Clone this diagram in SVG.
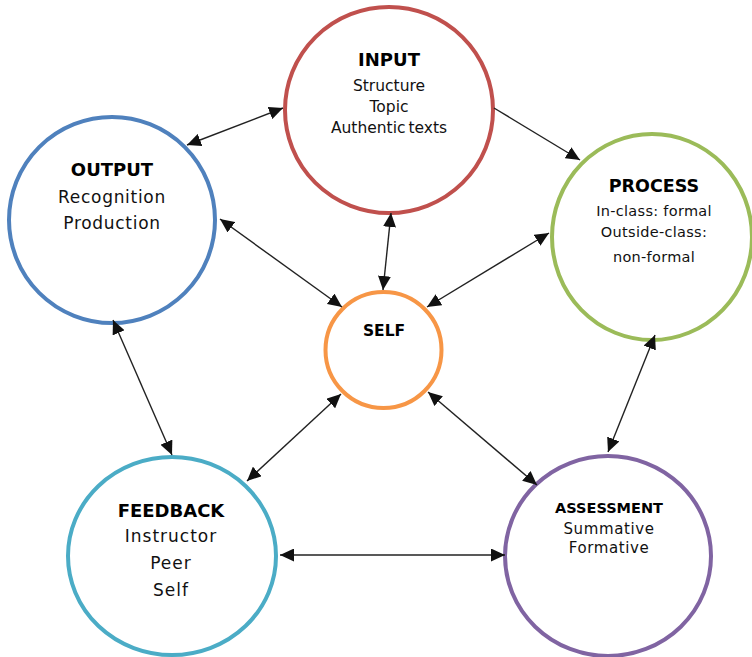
<svg xmlns="http://www.w3.org/2000/svg" width="752" height="657" viewBox="0 0 752 657">
<style>
.node{fill:#fff;stroke-width:4}
.t{font-family:"DejaVu Sans","Liberation Sans",sans-serif;font-weight:bold;fill:#000;text-anchor:middle}
.b{font-family:"DejaVu Sans","Liberation Sans",sans-serif;fill:#111;text-anchor:middle}
.c line{stroke:#222;stroke-width:1.4;fill:none}
</style>
<defs>
<marker id="ah" markerUnits="userSpaceOnUse" markerWidth="15" markerHeight="13" viewBox="0 0 15 13" refX="14" refY="6.5" orient="auto-start-reverse">
<path d="M0,0 L14,6.5 L0,13 z" fill="#111"/>
</marker>
</defs>
<rect width="752" height="657" fill="#fff"/>
<g id="input">
<ellipse class="node" cx="389" cy="110" rx="104" ry="103" stroke="#C0504D"/>
<text class="t" x="389" y="66" font-size="18">INPUT</text>
<text class="b" x="389" y="91" font-size="15.5">Structure</text>
<text class="b" x="389" y="112" font-size="15.5">Topic</text>
<text class="b" x="389" y="133" font-size="15.5" word-spacing="-2">Authentic texts</text>
</g>
<g id="output">
<ellipse class="node" cx="112" cy="220" rx="103" ry="103" stroke="#4F81BD"/>
<text class="t" x="112" y="176" font-size="18">OUTPUT</text>
<text class="b" x="112" y="203" font-size="17" letter-spacing="0.7">Recognition</text>
<text class="b" x="112" y="229" font-size="17" letter-spacing="0.7">Production</text>
</g>
<g id="process">
<ellipse class="node" cx="652" cy="237" rx="100" ry="103" stroke="#9BBB59"/>
<text class="t" x="654" y="192" font-size="17.5">PROCESS</text>
<text class="b" x="654" y="216" font-size="14.5" letter-spacing="0.3">In-class: formal</text>
<text class="b" x="654" y="237" font-size="14.5" letter-spacing="0.3">Outside-class:</text>
<text class="b" x="654" y="262" font-size="14.5" letter-spacing="0.3">non-formal</text>
</g>
<g id="self">
<circle class="node" cx="383.5" cy="350" r="58" stroke="#F79646"/>
<text class="t" x="384" y="336" font-size="15.5">SELF</text>
</g>
<g id="feedback">
<ellipse class="node" cx="172" cy="556" rx="104" ry="99" stroke="#4BACC6"/>
<text class="t" x="171" y="517" font-size="18">FEEDBACK</text>
<text class="b" x="171" y="542" font-size="17" letter-spacing="1">Instructor</text>
<text class="b" x="171" y="569" font-size="17" letter-spacing="1">Peer</text>
<text class="b" x="171" y="596" font-size="17" letter-spacing="1">Self</text>
</g>
<g id="assessment">
<ellipse class="node" cx="608" cy="556" rx="103" ry="100" stroke="#8064A2"/>
<text class="t" x="609" y="513" font-size="14.5">ASSESSMENT</text>
<text class="b" x="609" y="534" font-size="15" letter-spacing="0.6">Summative</text>
<text class="b" x="609" y="553" font-size="15" letter-spacing="0.6">Formative</text>
</g>
<g id="connectors" class="c">
<line x1="187" y1="145" x2="283" y2="108" marker-start="url(#ah)" marker-end="url(#ah)"/>
<line x1="494" y1="108" x2="580" y2="160" marker-end="url(#ah)"/>
<line x1="220" y1="219" x2="342" y2="307" marker-start="url(#ah)" marker-end="url(#ah)"/>
<line x1="391" y1="213" x2="383" y2="290" marker-start="url(#ah)" marker-end="url(#ah)"/>
<line x1="549" y1="233" x2="427" y2="307" marker-start="url(#ah)" marker-end="url(#ah)"/>
<line x1="113" y1="320" x2="172" y2="455" marker-start="url(#ah)" marker-end="url(#ah)"/>
<line x1="655" y1="335" x2="608" y2="452" marker-start="url(#ah)" marker-end="url(#ah)"/>
<line x1="341" y1="394" x2="247" y2="481" marker-start="url(#ah)" marker-end="url(#ah)"/>
<line x1="428" y1="392" x2="537" y2="485" marker-start="url(#ah)" marker-end="url(#ah)"/>
<line x1="280" y1="555" x2="505" y2="555" marker-start="url(#ah)" marker-end="url(#ah)"/>
</g>
</svg>
